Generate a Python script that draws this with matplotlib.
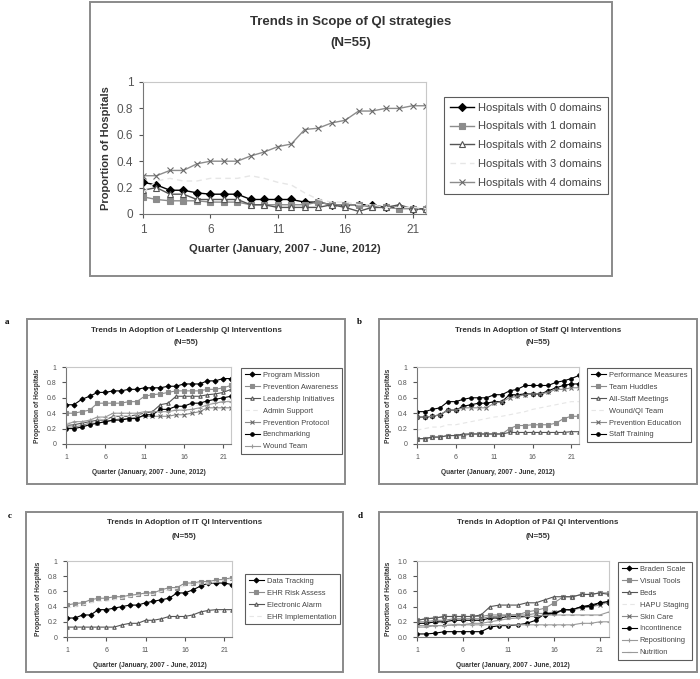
import matplotlib
matplotlib.use("Agg")
import matplotlib.pyplot as plt
from matplotlib.patches import Rectangle

plt.rcParams['font.family'] = ['Liberation Sans', 'DejaVu Sans']

W, H = 700, 679
quarters = list(range(1, 23))

# Top panel: scope of QI strategies
scope_names = ['Hospitals with 0 domains', 'Hospitals with 1 domain', 'Hospitals with 2 domains',
               'Hospitals with 3 domains', 'Hospitals with 4 domains']
scope_0 = [0.24, 0.22, 0.18, 0.18, 0.16, 0.15, 0.15, 0.15, 0.11, 0.11, 0.11, 0.11, 0.09, 0.09, 0.07, 0.07, 0.07, 0.07, 0.05, 0.05, 0.04, 0.04]
scope_1 = [0.13, 0.11, 0.10, 0.10, 0.10, 0.09, 0.09, 0.09, 0.07, 0.07, 0.07, 0.07, 0.07, 0.09, 0.07, 0.07, 0.07, 0.05, 0.05, 0.04, 0.04, 0.04]
scope_2 = [0.18, 0.20, 0.15, 0.15, 0.11, 0.11, 0.11, 0.11, 0.07, 0.07, 0.05, 0.05, 0.05, 0.05, 0.07, 0.05, 0.02, 0.05, 0.05, 0.07, 0.04, 0.04]
scope_3 = [0.16, 0.25, 0.27, 0.25, 0.25, 0.27, 0.27, 0.27, 0.29, 0.27, 0.24, 0.22, 0.16, 0.11, 0.09, 0.09, 0.07, 0.07, 0.05, 0.05, 0.05, 0.04]
scope_4 = [0.29, 0.29, 0.33, 0.33, 0.38, 0.40, 0.40, 0.40, 0.44, 0.47, 0.51, 0.53, 0.64, 0.65, 0.69, 0.71, 0.78, 0.78, 0.80, 0.80, 0.82, 0.82]

# a: leadership
lead_names = ['Program Mission', 'Prevention Awareness', 'Leadership Initiatives', 'Admin Support',
              'Prevention Protocol', 'Benchmarking', 'Wound Team']
program_mission = [0.51, 0.51, 0.58, 0.62, 0.67, 0.67, 0.69, 0.69, 0.71, 0.71, 0.73, 0.73, 0.73, 0.75, 0.75, 0.78, 0.78, 0.78, 0.82, 0.82, 0.85, 0.85]
prevention_awareness = [0.40, 0.40, 0.42, 0.44, 0.53, 0.53, 0.53, 0.53, 0.55, 0.55, 0.62, 0.64, 0.65, 0.67, 0.69, 0.69, 0.69, 0.69, 0.71, 0.71, 0.73, 0.76]
leadership_initiatives = [0.24, 0.25, 0.27, 0.29, 0.31, 0.31, 0.36, 0.36, 0.36, 0.38, 0.40, 0.42, 0.51, 0.53, 0.62, 0.62, 0.62, 0.62, 0.64, 0.65, 0.67, 0.71]
admin_support = [0.27, 0.29, 0.29, 0.31, 0.33, 0.33, 0.35, 0.36, 0.36, 0.38, 0.40, 0.40, 0.42, 0.44, 0.45, 0.47, 0.49, 0.51, 0.53, 0.55, 0.55, 0.58]
prevention_protocol = [0.22, 0.22, 0.24, 0.27, 0.27, 0.29, 0.31, 0.33, 0.33, 0.35, 0.36, 0.36, 0.36, 0.36, 0.38, 0.38, 0.40, 0.42, 0.47, 0.47, 0.47, 0.47]
benchmarking = [0.20, 0.20, 0.22, 0.25, 0.27, 0.29, 0.31, 0.31, 0.33, 0.33, 0.38, 0.38, 0.45, 0.45, 0.49, 0.49, 0.53, 0.53, 0.56, 0.58, 0.60, 0.62]
wound_team = [0.25, 0.29, 0.29, 0.31, 0.35, 0.35, 0.40, 0.40, 0.40, 0.40, 0.42, 0.42, 0.42, 0.42, 0.44, 0.44, 0.45, 0.47, 0.51, 0.53, 0.55, 0.55]

# b: staff
staff_names = ['Performance Measures', 'Team Huddles', 'All-Staff Meetings', 'Wound/QI Team',
               'Prevention Education', 'Staff Training']
performance_measures = [0.35, 0.35, 0.36, 0.38, 0.44, 0.44, 0.49, 0.51, 0.53, 0.53, 0.55, 0.55, 0.64, 0.64, 0.65, 0.65, 0.65, 0.69, 0.73, 0.76, 0.78, 0.78]
team_huddles = [0.07, 0.07, 0.09, 0.09, 0.11, 0.11, 0.11, 0.13, 0.13, 0.13, 0.13, 0.13, 0.20, 0.24, 0.24, 0.25, 0.25, 0.25, 0.27, 0.33, 0.36, 0.36]
all_staff_meetings = [0.07, 0.07, 0.09, 0.09, 0.11, 0.11, 0.13, 0.13, 0.13, 0.13, 0.13, 0.13, 0.15, 0.15, 0.15, 0.15, 0.15, 0.15, 0.15, 0.15, 0.16, 0.16]
wound_qi_team = [0.18, 0.20, 0.22, 0.22, 0.25, 0.25, 0.27, 0.29, 0.31, 0.33, 0.35, 0.36, 0.38, 0.40, 0.42, 0.45, 0.47, 0.49, 0.51, 0.53, 0.55, 0.55]
prevention_education = [0.35, 0.35, 0.36, 0.38, 0.44, 0.44, 0.47, 0.47, 0.47, 0.47, 0.53, 0.55, 0.60, 0.62, 0.64, 0.65, 0.65, 0.67, 0.71, 0.71, 0.73, 0.73]
staff_training = [0.42, 0.42, 0.45, 0.47, 0.55, 0.55, 0.58, 0.60, 0.60, 0.60, 0.64, 0.64, 0.69, 0.71, 0.76, 0.76, 0.76, 0.76, 0.80, 0.82, 0.85, 0.89]

# c: IT
it_names = ['Data Tracking', 'EHR Risk Assess', 'Electronic Alarm', 'EHR Implementation']
data_tracking = [0.25, 0.25, 0.29, 0.29, 0.36, 0.36, 0.38, 0.40, 0.42, 0.42, 0.45, 0.47, 0.49, 0.51, 0.58, 0.58, 0.62, 0.67, 0.71, 0.71, 0.71, 0.69]
ehr_risk_assess = [0.42, 0.44, 0.45, 0.49, 0.51, 0.51, 0.53, 0.53, 0.55, 0.56, 0.58, 0.58, 0.62, 0.65, 0.65, 0.71, 0.71, 0.73, 0.73, 0.75, 0.76, 0.78]
electronic_alarm = [0.13, 0.13, 0.13, 0.13, 0.13, 0.13, 0.13, 0.16, 0.18, 0.18, 0.22, 0.22, 0.24, 0.27, 0.27, 0.27, 0.29, 0.33, 0.35, 0.36, 0.36, 0.36]
ehr_implementation = [0.38, 0.40, 0.42, 0.45, 0.47, 0.47, 0.49, 0.51, 0.53, 0.55, 0.56, 0.56, 0.60, 0.62, 0.64, 0.67, 0.69, 0.71, 0.71, 0.73, 0.75, 0.76]

# d: P&I
pi_names = ['Braden Scale', 'Visual Tools', 'Beds', 'HAPU Staging', 'Skin Care',
            'Incontinence', 'Repositioning', 'Nutrition']
braden_scale = [0.18, 0.18, 0.20, 0.20, 0.22, 0.22, 0.22, 0.22, 0.25, 0.25, 0.27, 0.27, 0.27, 0.27, 0.29, 0.31, 0.35, 0.36, 0.40, 0.42, 0.45, 0.45]
visual_tools = [0.22, 0.24, 0.25, 0.27, 0.27, 0.27, 0.27, 0.27, 0.29, 0.29, 0.29, 0.29, 0.33, 0.35, 0.38, 0.45, 0.53, 0.53, 0.56, 0.56, 0.58, 0.58]
beds = [0.22, 0.24, 0.25, 0.27, 0.27, 0.27, 0.27, 0.29, 0.40, 0.42, 0.42, 0.42, 0.45, 0.45, 0.49, 0.53, 0.53, 0.53, 0.56, 0.56, 0.58, 0.56]
hapu_staging = [0.15, 0.15, 0.16, 0.18, 0.18, 0.18, 0.20, 0.20, 0.22, 0.22, 0.25, 0.25, 0.27, 0.29, 0.31, 0.33, 0.35, 0.36, 0.38, 0.40, 0.42, 0.45]
skin_care = [0.20, 0.20, 0.22, 0.22, 0.24, 0.24, 0.24, 0.24, 0.27, 0.27, 0.29, 0.29, 0.29, 0.31, 0.31, 0.33, 0.35, 0.36, 0.38, 0.40, 0.42, 0.47]
incontinence = [0.04, 0.04, 0.05, 0.07, 0.07, 0.07, 0.07, 0.07, 0.13, 0.15, 0.15, 0.16, 0.18, 0.22, 0.31, 0.31, 0.36, 0.36, 0.40, 0.40, 0.45, 0.47]
repositioning = [0.15, 0.15, 0.15, 0.15, 0.16, 0.16, 0.16, 0.16, 0.16, 0.16, 0.16, 0.16, 0.16, 0.16, 0.16, 0.16, 0.16, 0.16, 0.18, 0.18, 0.20, 0.20]
nutrition = [0.13, 0.13, 0.15, 0.15, 0.16, 0.16, 0.18, 0.18, 0.20, 0.22, 0.24, 0.25, 0.27, 0.27, 0.29, 0.29, 0.29, 0.29, 0.29, 0.29, 0.29, 0.33]

# Excel grayscale series styles, in order
styles = [
    dict(color='black', marker='D', mfc='black', mec='black'),
    dict(color='#8c8c8c', marker='s', mfc='#8c8c8c', mec='#8c8c8c'),
    dict(color='#555555', marker='^', mfc='white', mec='#555555'),
    dict(color='#e6e6e6', marker=None, ls=(0, (4, 3))),
    dict(color='#8c8c8c', marker='x', mfc='#8c8c8c', mec='#6a6a6a'),
    dict(color='black', marker='o', mfc='black', mec='black'),
    dict(color='#9a9a9a', marker='+', mfc='#9a9a9a', mec='#9a9a9a'),
    dict(color='#9a9a9a', marker='_', mfc='#9a9a9a', mec='#9a9a9a'),
]

fig = plt.figure(figsize=(W / 100, H / 100), dpi=100)


def px_rect(l, t, r, b):
    return [l / W, 1 - b / H, (r - l) / W, (b - t) / H]


def frame(l, t, r, b):
    fig.patches.append(Rectangle((l / W, 1 - b / H), (r - l) / W, (b - t) / H,
                                 transform=fig.transFigure, fill=False,
                                 ec='#8a8a8a', lw=1.4))


def panel(rect, leg_xy, series, names, ms, lw, yfmt, tick_fs, leg_fs, lab_fs, legspace, hlen):
    ax = fig.add_axes(px_rect(*rect))
    for vals, name, st in zip(series, names, styles):
        st = dict(st)
        ls = st.pop('ls', '-')
        ax.plot(quarters, vals, ls=ls, lw=lw, ms=ms, mew=0.8, label=name, **st)
    ax.set_xlim(1, 22)
    ax.set_ylim(0, 1)
    ax.set_xticks([1, 6, 11, 16, 21])
    ax.set_yticks([0, 0.2, 0.4, 0.6, 0.8, 1.0])
    ax.set_yticklabels([yfmt(v) for v in [0, 0.2, 0.4, 0.6, 0.8, 1.0]])
    ax.tick_params(labelsize=tick_fs, colors='#555555', length=3, width=0.8, pad=4)
    for s in ['left', 'bottom']:
        ax.spines[s].set_color('#777777')
    for s in ['top', 'right']:
        ax.spines[s].set_color('#c8c8c8')
    ax.set_ylabel('Proportion of Hospitals', fontsize=lab_fs, fontweight='bold', color='#333333')
    ax.set_xlabel('Quarter (January, 2007 - June, 2012)', fontsize=lab_fs, fontweight='bold',
                  color='#333333', labelpad=6)
    leg = ax.legend(loc='upper left', bbox_to_anchor=(leg_xy[0] / W, 1 - leg_xy[1] / H),
                    bbox_transform=fig.transFigure, fontsize=leg_fs, frameon=True,
                    fancybox=False, edgecolor='#333333', borderpad=0.5, borderaxespad=0,
                    labelspacing=legspace, handlelength=hlen, handletextpad=0.4)
    leg.get_frame().set_linewidth(0.8)
    for t in leg.get_texts():
        t.set_color('#444444')
    return ax


fmt_plain = lambda v: '0' if v == 0 else ('1' if v == 1 else '%g' % v)
fmt_dec = lambda v: '%.1f' % v

# top panel
frame(90, 2, 612, 276)
fig.text(351 / W, 1 - 22 / H, 'Trends in Scope of QI strategies', ha='center', va='center',
         fontsize=9.5, fontweight='bold', color='#333333')
fig.text(351 / W, 1 - 43 / H, '(N=55)', ha='center', va='center',
         fontsize=9.5, fontweight='bold', color='#333333')
panel((143, 82, 426, 214), (444, 97), [scope_0, scope_1, scope_2, scope_3, scope_4], scope_names,
      4, 1.0, fmt_plain, 8.5, 8, 8, 0.8, 2.2)


def small_panel(box, rect, leg_xy, series, names, title, letter, letter_xy, yfmt):
    frame(*box)
    cx = (box[0] + box[2]) / 2
    fig.text(cx / W, 1 - (box[1] + 11) / H, title, ha='center', va='center',
             fontsize=5.8, fontweight='bold', color='#333333')
    fig.text(cx / W, 1 - (box[1] + 24) / H, '(N=55)', ha='center', va='center',
             fontsize=5.8, fontweight='bold', color='#333333')
    fig.text(letter_xy[0] / W, 1 - letter_xy[1] / H, letter, ha='left', va='center',
             fontsize=6.5, fontweight='bold', family='Liberation Serif')
    panel(rect, leg_xy, series, names, 2.5, 0.8, yfmt, 5, 5.4, 4.8, 0.62, 2.0)


small_panel((27, 319, 345, 484), (66, 367, 231, 444), (241, 368),
            [program_mission, prevention_awareness, leadership_initiatives, admin_support,
             prevention_protocol, benchmarking, wound_team], lead_names,
            'Trends in Adoption of Leadership QI Interventions', 'a', (5, 322), fmt_plain)
small_panel((379, 319, 697, 484), (417, 367, 579, 444), (587, 368),
            [performance_measures, team_huddles, all_staff_meetings, wound_qi_team,
             prevention_education, staff_training], staff_names,
            'Trends in Adoption of Staff QI Interventions', 'b', (357, 322), fmt_plain)
small_panel((26, 512, 343, 672), (67, 561, 232, 637), (245, 574),
            [data_tracking, ehr_risk_assess, electronic_alarm, ehr_implementation], it_names,
            'Trends in Adoption of IT QI Interventions', 'c', (8, 516), fmt_plain)
small_panel((379, 512, 697, 672), (417, 561, 609, 637), (618, 562),
            [braden_scale, visual_tools, beds, hapu_staging, skin_care, incontinence,
             repositioning, nutrition], pi_names,
            'Trends in Adoption of P&I QI Interventions', 'd', (358, 516), fmt_dec)

fig.savefig('out.png', dpi=100)
